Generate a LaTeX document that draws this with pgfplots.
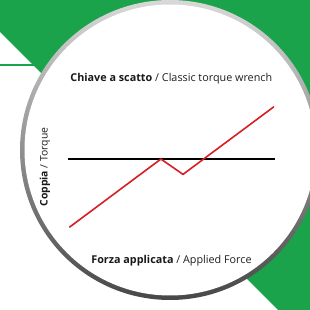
\documentclass[border=0pt]{standalone}
\usepackage{pgfplots}
\pgfplotsset{compat=1.18}
\usepackage{fontspec}
\setmainfont{Open Sans}
\definecolor{grn}{RGB}{26,163,74}
\definecolor{redl}{RGB}{215,30,38}
\definecolor{txt}{RGB}{30,30,30}
\begin{document}
\begin{tikzpicture}[x=1pt,y=1pt]
\useasboundingbox (0pt,0pt) rectangle (310pt,310pt);
\clip (0pt,0pt) rectangle (310pt,310pt);
\fill[white] (0pt,0pt) rectangle (310pt,310pt);
\fill[grn] (0pt,310pt) -- (310pt,310pt) -- (310pt,0pt) -- (278pt,0pt) -- (0pt,278pt) -- cycle;
\draw[grn, line width=1.6pt] (0pt,245pt) -- (34pt,245pt);
\shade[top color=gray!30, bottom color=black!72] (170pt,160pt) circle (150pt);
\fill[white] (170pt,160pt) circle (145.5pt);
\begin{axis}[
  at={(68.3pt,82.7pt)}, anchor=south west,
  scale only axis, width=206.7pt, height=120.6pt,
  xmin=0, xmax=10, ymin=0, ymax=10,
  axis lines=none, clip=false,
]
\addplot[black, line width=1.8pt] coordinates {(0,5.66) (10,5.66)};
\addplot[redl, line width=1.6pt] coordinates {(0.05,0) (4.48,5.66) (5.55,4.39) (9.95,10)};
\end{axis}
\node[font=\fontsize{10.8}{12}\selectfont, text=txt] at (171.3pt,231.7pt) {\textbf{\color{black!90}Chiave a scatto} / Classic torque wrench};
\node[font=\fontsize{10.4}{12}\selectfont, text=txt, rotate=90] at (45pt,143pt) {\textbf{\color{black!90}Coppia} / Torque};
\node[font=\fontsize{10.8}{12}\selectfont, text=txt] at (171.5pt,49pt) {\textbf{\color{black!90}Forza applicata} / Applied Force};
\end{tikzpicture}
\end{document}
